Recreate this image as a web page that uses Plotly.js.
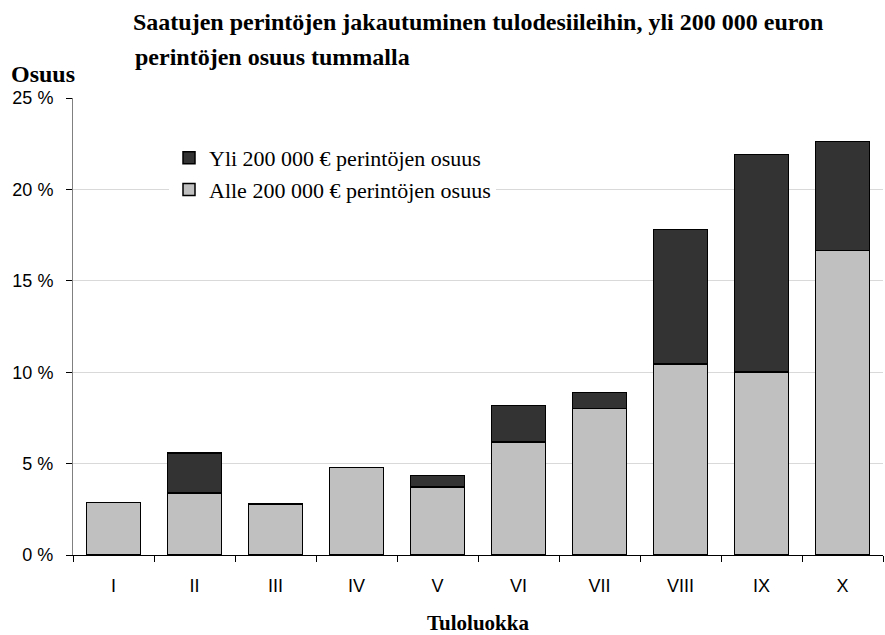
<!DOCTYPE html>
<html>
<head>
<meta charset="utf-8">
<script src="https://cdn.plot.ly/plotly-3.0.1.min.js"></script>
<style>html,body{margin:0;padding:0;background:#fff;}#chart{width:885px;height:635px;}</style>
</head>
<body>
<div id="chart"></div>
<script>
const categories = ['I','II','III','IV','V','VI','VII','VIII','IX','X'];
const alle = [2.88, 3.40, 2.79, 4.79, 3.73, 6.19, 8.01, 10.45, 10.01, 16.66];
const total = [2.88, 5.59, 2.79, 4.79, 4.35, 8.19, 8.90, 17.82, 21.92, 22.63];
const yli = total.map((t, i) => +(t - alle[i]).toFixed(2));
const names = ['Alle 200 000 € perintöjen osuus', 'Yli 200 000 € perintöjen osuus'];
const titleLine1 = 'Saatujen perintöjen jakautuminen tulodesiileihin, yli 200 000 euron';
const titleLine2 = 'perintöjen osuus tummalla';

const serif = 'Liberation Serif';
const sans = 'Liberation Sans';

const traces = [
  {type:'bar', x:categories, y:alle, name:names[0], legendgroup:'a', legendrank:2,
   marker:{color:'#c0c0c0', line:{color:'#000', width:1.5}}},
  {type:'bar', x:categories, y:yli, name:names[1], legendgroup:'b', legendrank:1,
   marker:{color:'#333333', line:{color:'#000', width:1.5}}}
];

const layout = {
  width:885, height:635,
  margin:{l:73, r:2, t:98, b:80},
  paper_bgcolor:'#fff', plot_bgcolor:'#fff',
  barmode:'stack', bargap:0.33,
  showlegend:true,
  title:{text:titleLine1, font:{family:serif, size:24, weight:'bold', color:'#000'},
         xref:'container', x:133/885, xanchor:'left', yref:'container', y:1-22/635, yanchor:'middle'},
  legend:{x:(169-73)/810, y:1-(137-98)/457, xanchor:'left', yanchor:'top', traceorder:'grouped', tracegroupgap:0,
          bgcolor:'#fff', font:{family:serif, size:22, color:'#000'}},
  xaxis:{type:'category', showline:true, linecolor:'#000', linewidth:1, ticks:'outside', tickson:'boundaries',
         ticklen:6, tickcolor:'#000', ticklabelstandoff:14, tickfont:{family:sans, size:18, color:'#000'},
         title:{text:'Tuloluokka', font:{family:serif, size:21, weight:'bold', color:'#000'}, standoff:22},
         showgrid:false, range:[-0.5, 9.5]},
  yaxis:{range:[0,25], dtick:5, ticksuffix:' %', showline:true, linecolor:'#808080', linewidth:1,
         ticks:'outside', ticklen:6, tickcolor:'#000', ticklabelstandoff:9, tickfont:{family:sans, size:18, color:'#000'},
         showgrid:true, gridcolor:'#d9d9d9', gridwidth:1, zeroline:false},
  annotations:[
    {text:titleLine2, xref:'paper', yref:'paper', x:(133-73)/810, y:1+(98-57)/457,
     xanchor:'left', yanchor:'middle', showarrow:false, font:{family:serif, size:24, weight:'bold', color:'#000'}},
    {text:'Osuus', xref:'paper', yref:'paper', x:(9-73)/810, y:1+(98-74)/457,
     xanchor:'left', yanchor:'middle', showarrow:false, font:{family:serif, size:24, weight:'bold', color:'#000'}}
  ]
};

Plotly.newPlot('chart', traces, layout, {displayModeBar:false, staticPlot:true});
</script>
</body>
</html>
